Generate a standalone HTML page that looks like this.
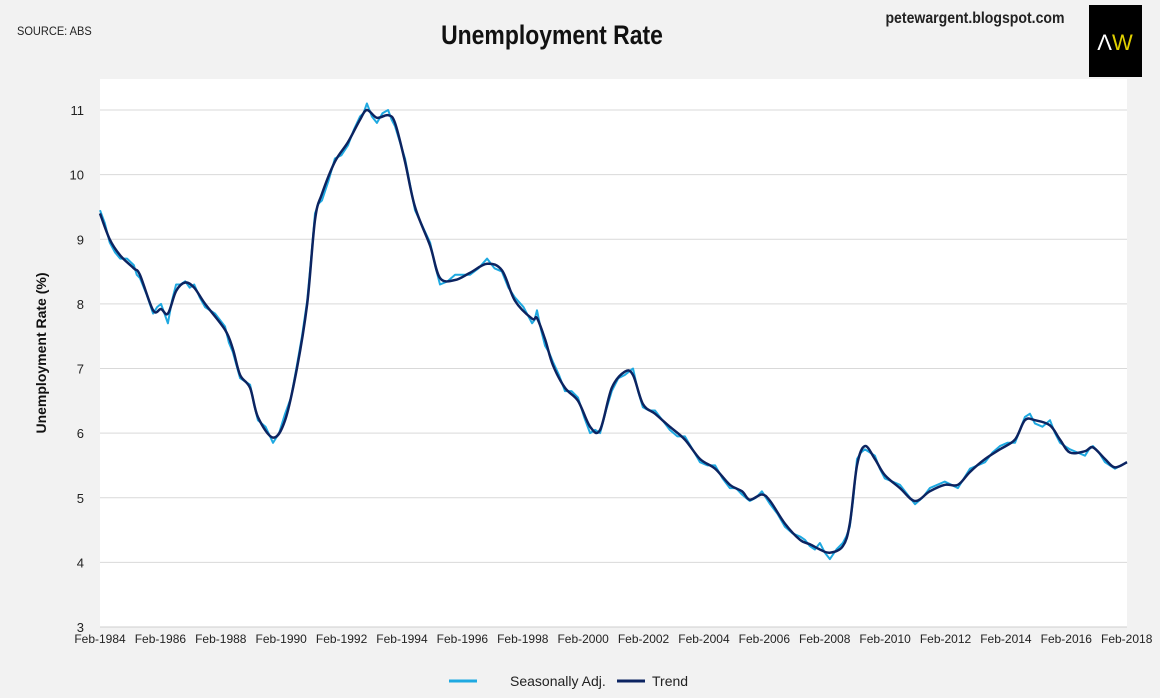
<!DOCTYPE html>
<html><head><meta charset="utf-8"><style>
body{margin:0;background:#f2f2f2;font-family:"Liberation Sans",sans-serif;}
#wrap{position:relative;width:1160px;height:698px;overflow:hidden;background:#f2f2f2;}
</style></head><body>
<div id="wrap">
<svg id="chart" width="1160" height="698" xmlns="http://www.w3.org/2000/svg">
<text x="17" y="35" font-size="12" fill="#222" transform="scale(0.92,1)" style="transform-origin:17px 35px">SOURCE: ABS</text>
<text x="552" y="44" font-size="27" font-weight="bold" text-anchor="middle" fill="#111" transform="translate(552,0) scale(0.85,1) translate(-552,0)">Unemployment Rate</text>
<text x="975" y="23" font-size="16" font-weight="bold" text-anchor="middle" fill="#222" transform="translate(975,0) scale(0.88,1) translate(-975,0)">petewargent.blogspot.com</text>
<rect x="1089" y="5" width="53" height="72" fill="#000"/>
<text x="1115" y="50" font-size="22" text-anchor="middle"><tspan fill="#fff">Λ</tspan><tspan fill="#e0d000">W</tspan></text>
<rect x="100" y="79" width="1027" height="548" fill="#fff"/>
<g id="grid"></g>
<g id="series"></g>
<text transform="translate(46,353) rotate(-90)" font-size="14" font-weight="bold" text-anchor="middle" fill="#111">Unemployment Rate (%)</text>
<line x1="449" y1="681" x2="477" y2="681" stroke="#1fa9e1" stroke-width="3"/>
<text x="510" y="686" font-size="14" fill="#222">Seasonally Adj.</text>
<line x1="617" y1="681" x2="645" y2="681" stroke="#0c2461" stroke-width="3"/>
<text x="652" y="686" font-size="14" fill="#222">Trend</text>
</svg>
</div>
<script>
const yTicks=[3,4,5,6,7,8,9,10,11];
const xTickYears=[1984,1986,1988,1990,1992,1994,1996,1998,2000,2002,2004,2006,2008,2010,2012,2014,2016,2018];
const trendYears=[1984.08,1984.4,1984.75,1985.2,1985.4,1985.84,1986.1,1986.33,1986.6,1986.9,1987.2,1987.56,1988.22,1988.48,1988.72,1989.05,1989.31,1989.81,1990.21,1990.6,1990.94,1991.2,1991.43,1991.86,1992.29,1992.69,1992.92,1993.25,1993.62,1993.85,1994.18,1994.51,1995.01,1995.34,1995.84,1996.33,1996.9,1997.39,1997.82,1998.39,1998.55,1998.82,1999.08,1999.48,1999.91,2000.31,2000.64,2001.03,2001.46,2001.73,2002.06,2002.46,2002.95,2003.45,2003.95,2004.45,2004.94,2005.34,2005.6,2006.0,2006.27,2006.76,2007.26,2007.59,2007.92,2008.25,2008.68,2008.91,2009.15,2009.41,2009.74,2010.07,2010.57,2011.07,2011.56,2012.06,2012.49,2012.89,2013.39,2013.88,2014.38,2014.71,2015.04,2015.54,2015.87,2016.2,2016.7,2016.96,2017.36,2017.69,2018.09];
const trendValues=[9.4,9.0,8.75,8.55,8.45,7.9,7.92,7.85,8.2,8.33,8.25,8.0,7.6,7.3,6.9,6.7,6.25,5.93,6.2,7.0,8.0,9.3,9.7,10.2,10.5,10.85,11.0,10.88,10.92,10.8,10.2,9.5,8.9,8.4,8.37,8.48,8.62,8.52,8.05,7.77,7.78,7.45,7.05,6.7,6.5,6.1,6.05,6.7,6.95,6.9,6.45,6.3,6.1,5.9,5.6,5.45,5.2,5.1,4.97,5.05,4.95,4.6,4.35,4.28,4.2,4.15,4.25,4.6,5.5,5.8,5.6,5.35,5.15,4.95,5.1,5.2,5.2,5.4,5.6,5.75,5.9,6.2,6.2,6.12,5.9,5.7,5.72,5.78,5.6,5.47,5.55];
// seasonally adjusted: values at each trend date, and at midpoints between consecutive trend dates
const saAtDates=[9.45,8.95,8.7,8.6,8.4,7.85,8.0,7.7,8.3,8.35,8.3,7.95,7.65,7.25,6.85,6.75,6.2,5.85,6.3,7.05,8.05,9.4,9.6,10.25,10.45,10.9,11.1,10.8,11.0,10.75,10.25,9.45,8.95,8.3,8.45,8.45,8.7,8.5,8.1,7.7,7.9,7.35,7.1,6.65,6.55,6.0,6.0,6.65,6.9,7.0,6.4,6.35,6.05,5.95,5.55,5.5,5.15,5.05,4.95,5.1,4.9,4.55,4.4,4.25,4.3,4.05,4.3,4.55,5.6,5.75,5.65,5.3,5.2,4.9,5.15,5.25,5.15,5.45,5.55,5.8,5.85,6.25,6.15,6.2,5.85,5.75,5.65,5.8,5.55,5.45,5.55];
const saAtMid=[9.25,8.8,8.7,8.45,8.15,7.95,7.85,8.05,8.3,8.25,8.1,7.85,7.4,7.05,6.8,6.45,6.1,6.0,6.55,7.5,8.7,9.55,9.9,10.3,10.7,10.95,10.9,10.95,10.85,10.5,9.85,9.2,8.6,8.35,8.45,8.55,8.55,8.25,7.95,7.75,7.6,7.25,6.9,6.65,6.25,6.05,6.35,6.85,6.95,6.65,6.35,6.2,5.95,5.75,5.5,5.3,5.15,5.0,5.0,5.0,4.75,4.45,4.35,4.2,4.15,4.2,4.4,5.0,5.7,5.7,5.45,5.25,5.05,5.0,5.2,5.2,5.3,5.5,5.7,5.85,6.05,6.3,6.1,6.0,5.8,5.7,5.75,5.7,5.5,5.5];
const X0=100,X1=1127,Y0=627,Y1=110;
function xs(y){return X0+(y-1984.08)/(2018.09-1984.08)*(X1-X0);}
function ys(v){return Y0-(v-3)/(11-3)*(Y0-Y1);}
const NS='http://www.w3.org/2000/svg';
const grid=document.getElementById('grid'), ser=document.getElementById('series');
yTicks.forEach(t=>{
 const l=document.createElementNS(NS,'line');
 l.setAttribute('x1',X0);l.setAttribute('x2',X1);l.setAttribute('y1',ys(t));l.setAttribute('y2',ys(t));
 l.setAttribute('stroke',t===3?'#cfcfcf':'#d9d9d9');l.setAttribute('stroke-width','1');
 
 
 grid.appendChild(l);
 const tx=document.createElementNS(NS,'text');
 tx.setAttribute('x',84);tx.setAttribute('y',ys(t)+5);tx.setAttribute('font-size','13');tx.setAttribute('text-anchor','end');tx.setAttribute('fill','#222');
 tx.textContent=t;
 
 
 grid.appendChild(tx);
});
xTickYears.forEach(yr=>{
 const tx=document.createElementNS(NS,'text');
 tx.setAttribute('x',xs(yr+0.08));tx.setAttribute('y',643);tx.setAttribute('font-size','12');tx.setAttribute('text-anchor','middle');tx.setAttribute('fill','#222');
 tx.textContent='Feb-'+yr;
 
 
 grid.appendChild(tx);
});
let d='';
for(let i=0;i<trendYears.length;i++){
 d+=(i?'L':'M')+xs(trendYears[i]).toFixed(1)+','+ys(saAtDates[i]).toFixed(1);
 if(i<saAtMid.length){const my=(trendYears[i]+trendYears[i+1])/2;d+='L'+xs(my).toFixed(1)+','+ys(saAtMid[i]).toFixed(1);}
}
const sa=document.createElementNS(NS,'path');
sa.setAttribute('d',d);sa.setAttribute('fill','none');sa.setAttribute('stroke','#1fa9e1');sa.setAttribute('stroke-width','2');sa.setAttribute('stroke-linejoin','round');


ser.appendChild(sa);
const pts=trendYears.map((y,i)=>[xs(y),ys(trendValues[i])]);
let td='M'+pts[0][0].toFixed(1)+','+pts[0][1].toFixed(1);
for(let i=0;i<pts.length-1;i++){
 const p0=pts[Math.max(0,i-1)],p1=pts[i],p2=pts[i+1],p3=pts[Math.min(pts.length-1,i+2)];
 const c1=[p1[0]+(p2[0]-p0[0])/6,p1[1]+(p2[1]-p0[1])/6],c2=[p2[0]-(p3[0]-p1[0])/6,p2[1]-(p3[1]-p1[1])/6];
 td+='C'+c1.map(v=>v.toFixed(1)).join(',')+' '+c2.map(v=>v.toFixed(1)).join(',')+' '+p2.map(v=>v.toFixed(1)).join(',');
}
const tr=document.createElementNS(NS,'path');
tr.setAttribute('d',td);tr.setAttribute('fill','none');tr.setAttribute('stroke','#0c2461');tr.setAttribute('stroke-width','2.5');


ser.appendChild(tr);
</script>
</body></html>
